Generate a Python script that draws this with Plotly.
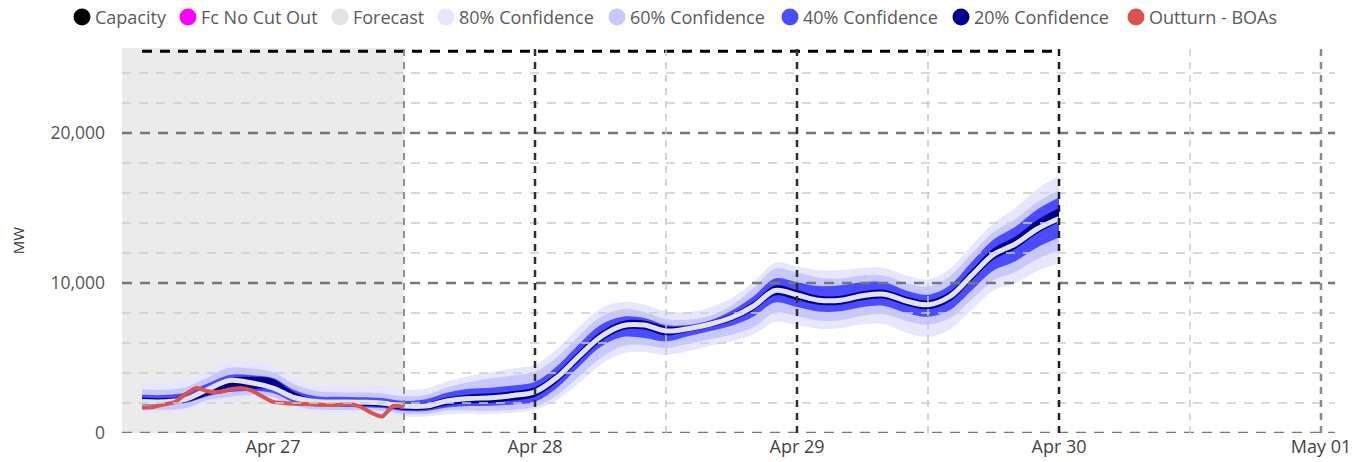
import pandas as pd
import plotly.graph_objects as go

# ---------------- data ----------------
FORECAST_START = "2025-04-26 12:00"
FORECAST_STEP_H = 2
FORECAST = [2100, 2080, 2250, 2900, 3500, 3350, 3000, 2350, 2100, 2070, 2050, 2000, 1800,
            1800, 2150, 2300, 2350, 2500, 2750, 3700, 5100, 6400, 7150, 7200, 6800, 6950,
            7250, 7700, 8450, 9500, 9200, 8850, 8850, 9150, 9250, 8800, 8550, 9100, 10500,
            11900, 12600, 13600, 14300]
# spreads above (U) and below (L) the forecast, MW
U80 = [1250, 1250, 1250, 1250, 1250, 1400, 1500, 1300, 1150, 1100, 1100, 1100, 1100, 1150, 1300,
       1500, 1700, 1800, 1800, 1900, 1950, 1900, 1600, 1350, 1300, 1100, 1100, 1300, 1600, 1850,
       1900, 2000, 2000, 1850, 1750, 1700, 1700, 1850, 2000, 2100, 2400, 2650, 2850]
L80 = [750, 750, 800, 900, 1400, 1100, 800, 750, 750, 750, 720, 700, 700, 700, 900, 1000, 1100,
       1150, 1200, 1500, 1800, 1850, 1850, 1800, 1600, 1500, 1450, 1600, 1900, 2100, 2000, 1900,
       1850, 1900, 2000, 2100, 2150, 2200, 2300, 2400, 2600, 2800, 3000]
U60 = [800, 800, 800, 800, 850, 950, 1050, 900, 700, 650, 650, 650, 650, 750, 900, 1100, 1300,
       1330, 1330, 1350, 1350, 1330, 1100, 870, 800, 600, 550, 800, 1200, 1450, 1500, 1500, 1450,
       1350, 1250, 1200, 1200, 1350, 1450, 1500, 1650, 1800, 1900]
L60 = [530, 530, 600, 700, 1100, 800, 600, 550, 540, 540, 530, 530, 530, 530, 650, 800, 870, 950,
       1000, 1200, 1350, 1400, 1380, 1330, 1150, 1000, 1000, 1150, 1400, 1470, 1400, 1350, 1330,
       1330, 1330, 1330, 1330, 1450, 1600, 1730, 1850, 2000, 2130]
U40 = [450, 450, 450, 400, 370, 500, 670, 500, 350, 340, 330, 330, 330, 450, 550, 650, 670, 670,
       670, 750, 800, 800, 600, 470, 400, 250, 250, 450, 650, 800, 850, 950, 1000, 900, 800, 700,
       670, 750, 900, 1000, 1150, 1300, 1400]
L40 = [200, 200, 250, 450, 770, 550, 330, 330, 340, 340, 330, 330, 330, 330, 450, 500, 530, 600,
       670, 700, 700, 670, 750, 870, 700, 500, 470, 550, 700, 800, 800, 750, 730, 750, 780, 800,
       800, 900, 1000, 1070, 1150, 1230, 1270]
U20 = [250, 250, 200, 150, 150, 400, 600, 350, 150, 150, 150, 170, 200, 200, 230, 270, 300, 300,
       300, 320, 330, 330, 300, 300, 300, 200, 200, 230, 280, 330, 330, 300, 300, 300, 300, 300,
       300, 330, 380, 420, 500, 600, 700]
L20 = [120, 120, 200, 400, 600, 400, 100, 150, 250, 250, 250, 250, 250, 250, 300, 320, 330, 330,
       330, 330, 330, 330, 300, 300, 300, 200, 200, 230, 280, 330, 330, 300, 300, 300, 300, 300,
       300, 330, 350, 350, 330, 300, 250]

OUTTURN_START = "2025-04-26 12:00"
OUTTURN_STEP_H = 1
OUTTURN = [1680, 1730, 1900, 2070, 2600, 3000, 2780, 2730, 2900, 3000, 2850, 2450, 2070, 2000,
           1950, 1930, 1900, 1870, 1870, 1930, 1750, 1350, 1100, 1800, 1730]

CAPACITY_TIMES = ["2025-04-26 12:00", "2025-04-30 00:00"]
CAPACITY = [25450, 25450]

SHADE_END = "2025-04-27 12:00"
X_TICKS = ["2025-04-27", "2025-04-28", "2025-04-29", "2025-04-30", "2025-05-01"]
Y_TICKS = [0, 10000, 20000]

LEGEND_NAMES = ["Capacity", "Fc No Cut Out", "Forecast", "80% Confidence", "60% Confidence",
                "40% Confidence", "20% Confidence", "Outturn - BOAs"]
LEGEND_COLORS = ["#000000", "#ff00ff", "#e3e3e3", "#e6e6ff", "#c8c8ff", "#4b4bff", "#00008b",
                 "#d9534f"]

# ---------------- figure ----------------
W, H = 1368, 462
ML, MR, MT, MB = 122, 33, 48, 29
PW, PH = W - ML - MR, H - MT - MB
Y_MAX = PH / 0.015  # 150 px per 10,000 MW

tf = pd.date_range(FORECAST_START, periods=len(FORECAST), freq=f"{FORECAST_STEP_H}h")
to = pd.date_range(OUTTURN_START, periods=len(OUTTURN), freq=f"{OUTTURN_STEP_H}h")

fig = go.Figure()

bands = [("80%", U80, L80, "#e6e6ff"), ("60%", U60, L60, "#c8c8ff"),
         ("40%", U40, L40, "#4b4bff"), ("20%", U20, L20, "#00008b")]
for name, up, lo, col in bands:
    lower = [f - l for f, l in zip(FORECAST, lo)]
    upper = [f + u for f, u in zip(FORECAST, up)]
    fig.add_trace(go.Scatter(x=tf, y=lower, mode="lines", line=dict(width=0, shape="spline"),
                             showlegend=False, hoverinfo="skip"))
    fig.add_trace(go.Scatter(x=tf, y=upper, mode="lines", line=dict(width=0, shape="spline"),
                             fill="tonexty", fillcolor=col, showlegend=False, hoverinfo="skip",
                             name=name + " Confidence"))

fig.add_trace(go.Scatter(x=tf, y=FORECAST, mode="lines", name="Forecast",
                         line=dict(color="#e3e3e3", width=5, shape="spline"), showlegend=False))
fig.add_trace(go.Scatter(x=to, y=OUTTURN, mode="lines", name="Outturn - BOAs",
                         line=dict(color="#d9534f", width=4, shape="spline", smoothing=0.6),
                         showlegend=False))
fig.add_trace(go.Scatter(x=pd.to_datetime(CAPACITY_TIMES), y=CAPACITY, mode="lines",
                         name="Capacity", line=dict(color="#000000", width=3, dash="10px,8px"),
                         showlegend=False))

shapes = []
# history shading
shapes.append(dict(type="rect", xref="x", yref="paper", x0="2025-04-26 00:00", x1=SHADE_END,
                   y0=0, y1=1, fillcolor="#ebebeb", line=dict(width=0), layer="below"))
# horizontal grid (drawn above traces as in the reference)
for v in range(2000, int(Y_MAX), 2000):
    if v % 10000:
        shapes.append(dict(type="line", xref="paper", yref="y", x0=0, x1=1, y0=v, y1=v,
                           line=dict(color="#cdcdcd", width=1.5, dash="9px,8px"), layer="above"))
for v in Y_TICKS:
    shapes.append(dict(type="line", xref="paper", yref="y", x0=0, x1=1, y0=v, y1=v,
                       line=dict(color="#777777", width=2.5, dash="10px,8px"), layer="above"))
# vertical grid
vlines = [("2025-04-27 12:00", "#8f8f8f", 2), ("2025-04-28 00:00", "#2e2e2e", 2.5),
          ("2025-04-28 12:00", "#c6c6c6", 1.5), ("2025-04-29 00:00", "#2e2e2e", 2.5),
          ("2025-04-29 12:00", "#c6c6c6", 1.5), ("2025-04-30 00:00", "#1e1e1e", 2.5),
          ("2025-04-30 12:00", "#cdcdcd", 1.5), ("2025-05-01 00:00", "#8a8a8a", 2.5)]
for xv, col, w in vlines:
    shapes.append(dict(type="line", xref="x", yref="paper", x0=xv, x1=xv, y0=0, y1=1,
                       line=dict(color=col, width=w, dash="7px,6px"), layer="above"))

# legend (manual, to match the compact reference spacing)
LEG_CX = [82, 188, 340, 446, 617, 790, 961, 1136]
LEG_Y = 17
annotations = []
for name, col, cx in zip(LEGEND_NAMES, LEGEND_COLORS, LEG_CX):
    px = (cx - ML) / PW
    py = (H - MB - LEG_Y) / PH
    shapes.append(dict(type="circle", xref="paper", yref="paper", xsizemode="pixel",
                       ysizemode="pixel", xanchor=px, yanchor=py, x0=-8.5, x1=8.5, y0=-8.5,
                       y1=8.5, fillcolor=col, line=dict(width=0), layer="above"))
    annotations.append(dict(xref="paper", yref="paper", x=(cx + 11 - ML) / PW, y=py,
                            xanchor="left", yanchor="middle", text=name, showarrow=False,
                            font=dict(family="Open Sans", size=18, color="#5a5a5a")))

fig.update_layout(
    width=W, height=H, margin=dict(l=ML, r=MR, t=MT, b=MB, autoexpand=False),
    paper_bgcolor="white", plot_bgcolor="white", showlegend=False,
    shapes=shapes, annotations=annotations,
    font=dict(family="Open Sans", size=17, color="#555555"),
    xaxis=dict(range=["2025-04-26 10:10", "2025-05-01 01:17"], tickvals=X_TICKS,
               tickformat="%b %d", showgrid=False, zeroline=False, showline=False,
               ticks="", ticklabelstandoff=1, automargin=False,
               tickfont=dict(size=18, color="#444444")),
    yaxis=dict(range=[0, Y_MAX], tickvals=Y_TICKS, tickformat=",", showgrid=False,
               zeroline=False, showline=False, ticks="", ticklabelstandoff=16,
               automargin=False, tickfont=dict(size=17.5, color="#555555"),
               title=dict(text="MW", standoff=22, font=dict(size=15, color="#333333"))),
)

fig.write_html("out.html", config={"displayModeBar": False},
               post_script="document.body.style.margin='0';document.body.style.overflow='hidden';")
